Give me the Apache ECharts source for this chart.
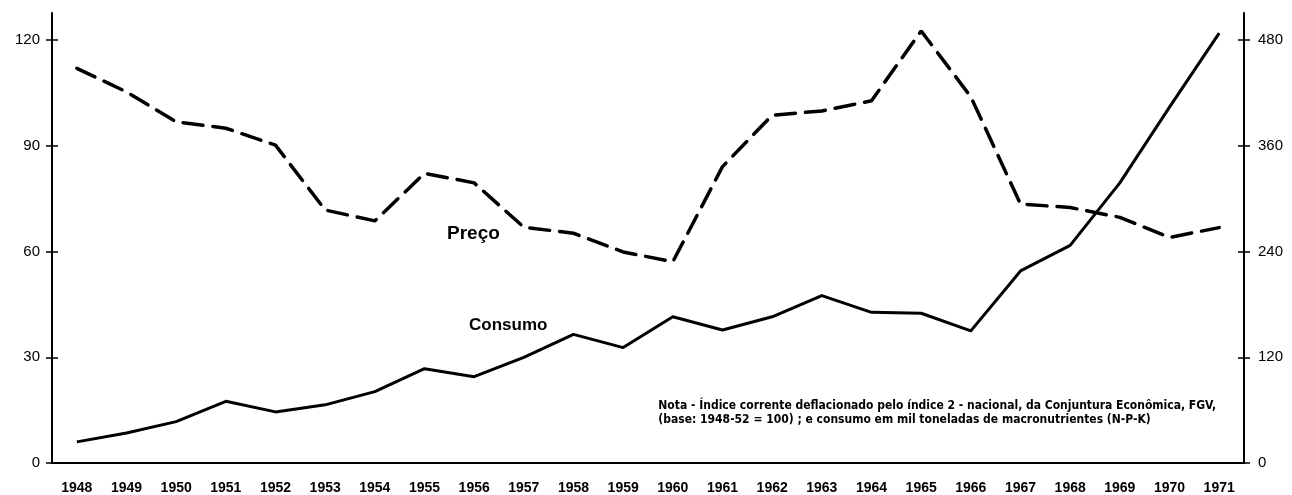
<!DOCTYPE html>
<html>
<head>
<meta charset="utf-8">
<script src="https://cdn.jsdelivr.net/npm/echarts@6/dist/echarts.min.js"></script>
<style>
  html, body { margin: 0; padding: 0; background: #fff; }
  #chart { width: 1292px; height: 495px; }
</style>
</head>
<body>
<div id="chart"></div>
<script>
// dados
const anos = ['1948', '1949', '1950', '1951', '1952', '1953', '1954', '1955', '1956', '1957', '1958', '1959',
  '1960', '1961', '1962', '1963', '1964', '1965', '1966', '1967', '1968', '1969', '1970', '1971'];
// índice de preço (eixo esquerdo)
const preco = [112.0, 105.3, 96.8, 95.0, 90.2, 71.8, 68.7, 82.2, 79.5, 66.9, 65.2, 59.9,
  57.1, 84.1, 98.7, 99.9, 102.8, 122.6, 103.9, 73.5, 72.5, 69.7, 64.0, 66.8];
// consumo em mil toneladas (eixo direito)
const consumo = [24, 34, 47, 70, 58, 66, 81, 107, 98, 120, 146, 131,
  166, 151, 166, 190, 171, 170, 150, 218, 247, 318, 404, 488];
const ticksEsq = [0, 30, 60, 90, 120];
const ticksDir = [0, 120, 240, 360, 480];

const myChart = echarts.init(document.getElementById('chart'));
const fonte = '"Liberation Sans", Arial, sans-serif';
const eixoPreto = { show: true, lineStyle: { color: '#000', width: 2 } };

const option = {
  animation: false,
  backgroundColor: '#fff',
  grid: { left: 52, right: 48, top: 13, bottom: 32 },
  xAxis: [
    {
      type: 'category',
      data: anos,
      boundaryGap: true,
      axisLine: eixoPreto,
      axisTick: { alignWithLabel: true, length: 7, lineStyle: { color: '#000', width: 1.5 } },
      axisLabel: { color: '#000', fontSize: 14, fontWeight: 'bold', fontFamily: fonte, margin: 18 }
    },
    {
      // meia-marca para dentro, para os traços cruzarem o eixo
      type: 'category',
      data: anos,
      position: 'bottom',
      boundaryGap: true,
      axisLine: { show: false },
      axisTick: { inside: true, alignWithLabel: true, length: 6, lineStyle: { color: '#000', width: 1.5 } },
      axisLabel: { show: false }
    }
  ],
  yAxis: [
    {
      type: 'value',
      min: 0,
      max: 127.7,
      position: 'left',
      splitLine: { show: false },
      axisLine: eixoPreto,
      axisTick: { show: true, length: 6, customValues: ticksEsq, lineStyle: { color: '#000', width: 1.5 } },
      axisLabel: { color: '#000', fontSize: 15, fontFamily: fonte, margin: 12, customValues: ticksEsq }
    },
    {
      type: 'value',
      min: 0,
      max: 510.8,
      position: 'right',
      splitLine: { show: false },
      axisLine: eixoPreto,
      axisTick: { show: true, length: 6, customValues: ticksDir, lineStyle: { color: '#000', width: 1.5 } },
      axisLabel: { color: '#000', fontSize: 15, fontFamily: fonte, margin: 14, customValues: ticksDir }
    },
    {
      type: 'value', min: 0, max: 127.7, position: 'left',
      splitLine: { show: false }, axisLine: { show: false }, axisLabel: { show: false },
      axisTick: { show: true, inside: true, length: 6, customValues: ticksEsq, lineStyle: { color: '#000', width: 1.5 } }
    },
    {
      type: 'value', min: 0, max: 510.8, position: 'right',
      splitLine: { show: false }, axisLine: { show: false }, axisLabel: { show: false },
      axisTick: { show: true, inside: true, length: 6, customValues: ticksDir, lineStyle: { color: '#000', width: 1.5 } }
    }
  ],
  series: [
    {
      name: 'Preço',
      type: 'line',
      yAxisIndex: 0,
      data: preco,
      symbol: 'none',
      lineStyle: { color: '#000', width: 3.5, type: [20, 10], cap: 'round' }
    },
    {
      name: 'Consumo',
      type: 'line',
      yAxisIndex: 1,
      data: consumo,
      symbol: 'none',
      lineStyle: { color: '#000', width: 3, join: 'round' }
    }
  ],
  graphic: [
    {
      type: 'text', left: 447, top: 224,
      style: { text: 'Preço', fill: '#000', font: 'bold 19px ' + fonte }
    },
    {
      type: 'text', left: 469, top: 317,
      style: { text: 'Consumo', fill: '#000', font: 'bold 17px ' + fonte }
    },
    {
      type: 'text', right: 76, top: 399,
      style: {
        text: 'Nota - Índice corrente deflacionado pelo índice 2 - nacional, da Conjuntura Econômica, FGV,\n(base: 1948-52 = 100) ; e consumo em mil toneladas de macronutrientes (N-P-K)',
        fill: '#000', font: 'bold 12px "DejaVu Sans Condensed", ' + fonte, align: 'right', lineHeight: 14
      }
    }
  ]
};
myChart.setOption(option);

window.addEventListener('resize', () => {
  myChart.resize();
});
</script>
</body>
</html>
